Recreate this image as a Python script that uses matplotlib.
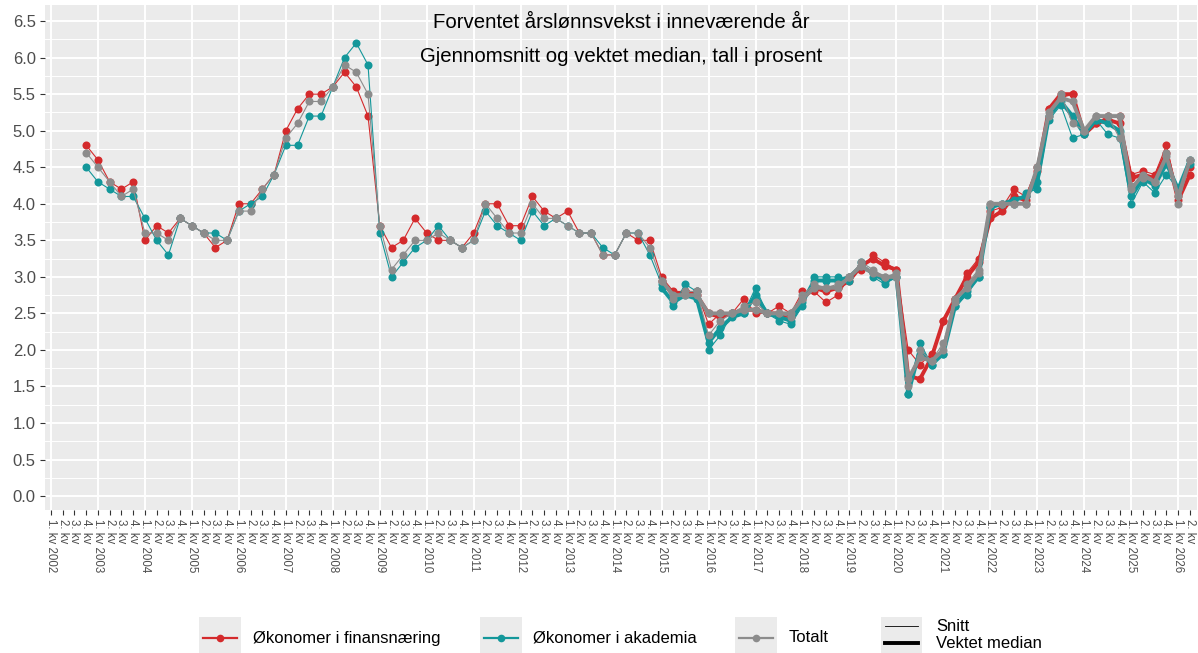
import numpy as np
import matplotlib
matplotlib.use("Agg")
import matplotlib.pyplot as plt
from matplotlib.patches import Rectangle
from matplotlib.lines import Line2D

plt.rcParams['font.family'] = ['Liberation Sans', 'DejaVu Sans']

# kvartaler fra 1. kv 2002 til 2. kv 2026
years = list(range(2002, 2027))
quarters = [(y, q) for y in years for q in range(1, 5)][:98]
tick_labels = [f"{q}. kv {y}" if q == 1 else f"{q}. kv" for y, q in quarters]

# snitt starter 4. kv 2002, vektet median starter 1. kv 2015
snitt_start = 3
median_start = 52

finans_snitt = [
    4.8,
    4.6, 4.3, 4.2, 4.3,
    3.5, 3.7, 3.6, 3.8,
    3.7, 3.6, 3.4, 3.5,
    4.0, 4.0, 4.2, 4.4,
    5.0, 5.3, 5.5, 5.5,
    5.6, 5.8, 5.6, 5.2,
    3.7, 3.4, 3.5, 3.8,
    3.6, 3.5, 3.5, 3.4,
    3.6, 4.0, 4.0, 3.7,
    3.7, 4.1, 3.9, 3.8,
    3.9, 3.6, 3.6, 3.3,
    3.3, 3.6, 3.5, 3.5,
    3.0, 2.8, 2.8, 2.8,
    2.35, 2.5, 2.5, 2.7,
    2.5, 2.5, 2.6, 2.5,
    2.8, 2.8, 2.65, 2.75,
    3.0, 3.1, 3.3, 3.2,
    3.1, 2.0, 1.8, 1.95,
    2.4, 2.7, 3.05, 3.25,
    3.9, 3.95, 4.2, 4.1,
    4.5, 5.3, 5.45, 5.5,
    5.0, 5.1, 5.2, 5.2,
    4.4, 4.45, 4.4, 4.8,
    4.1, 4.5,
]
akademia_snitt = [
    4.5,
    4.3, 4.2, 4.1, 4.1,
    3.8, 3.5, 3.3, 3.8,
    3.7, 3.6, 3.6, 3.5,
    3.9, 4.0, 4.1, 4.4,
    4.8, 4.8, 5.2, 5.2,
    5.6, 6.0, 6.2, 5.9,
    3.6, 3.0, 3.2, 3.4,
    3.5, 3.7, 3.5, 3.4,
    3.5, 3.9, 3.7, 3.6,
    3.5, 3.9, 3.7, 3.8,
    3.7, 3.6, 3.6, 3.4,
    3.3, 3.6, 3.6, 3.3,
    2.9, 2.6, 2.9, 2.8,
    2.0, 2.2, 2.5, 2.5,
    2.85, 2.5, 2.4, 2.35,
    2.6, 3.0, 3.0, 3.0,
    2.95, 3.2, 3.0, 2.9,
    3.0, 1.4, 2.1, 1.8,
    1.95, 2.6, 2.75, 3.0,
    3.95, 4.0, 4.0, 4.15,
    4.2, 5.15, 5.35, 4.9,
    4.95, 5.15, 4.95, 4.9,
    4.0, 4.3, 4.15, 4.4,
    4.2, 4.55,
]
totalt_snitt = [
    4.7,
    4.5, 4.3, 4.1, 4.2,
    3.6, 3.6, 3.5, 3.8,
    3.7, 3.6, 3.5, 3.5,
    3.9, 3.9, 4.2, 4.4,
    4.9, 5.1, 5.4, 5.4,
    5.6, 5.9, 5.8, 5.5,
    3.7, 3.1, 3.3, 3.5,
    3.5, 3.6, 3.5, 3.4,
    3.5, 4.0, 3.8, 3.6,
    3.6, 4.0, 3.8, 3.8,
    3.7, 3.6, 3.6, 3.3,
    3.3, 3.6, 3.6, 3.4,
    2.95, 2.7, 2.8, 2.8,
    2.2, 2.4, 2.5, 2.6,
    2.65, 2.5, 2.5, 2.45,
    2.75, 2.9, 2.85, 2.9,
    3.0, 3.2, 3.1, 3.0,
    3.05, 1.5, 2.0, 1.85,
    2.1, 2.65, 2.9, 3.1,
    4.0, 4.0, 4.0, 4.0,
    4.5, 5.2, 5.5, 5.1,
    5.0, 5.2, 5.2, 4.9,
    4.25, 4.35, 4.3, 4.7,
    4.0, 4.6,
]

finans_median = [
    2.95, 2.75, 2.8, 2.75,
    2.5, 2.45, 2.5, 2.55,
    2.55, 2.5, 2.5, 2.45,
    2.7, 2.85, 2.8, 2.85,
    2.95, 3.15, 3.25, 3.15,
    3.1, 1.65, 1.6, 1.9,
    2.4, 2.7, 3.0, 3.2,
    3.8, 3.9, 4.1, 4.05,
    4.45, 5.3, 5.5, 5.5,
    4.95, 5.1, 5.15, 5.1,
    4.35, 4.4, 4.35, 4.7,
    4.05, 4.4,
]
akademia_median = [
    2.85, 2.65, 2.75, 2.7,
    2.1, 2.3, 2.45, 2.5,
    2.75, 2.5, 2.45, 2.4,
    2.65, 2.95, 2.95, 2.95,
    3.0, 3.15, 3.05, 2.95,
    3.0, 1.4, 2.0, 1.8,
    1.95, 2.6, 2.8, 3.0,
    3.95, 4.0, 4.05, 4.1,
    4.3, 5.2, 5.4, 5.2,
    4.95, 5.15, 5.1, 5.0,
    4.1, 4.35, 4.25, 4.55,
    4.2, 4.6,
]
totalt_median = [
    2.95, 2.75, 2.75, 2.75,
    2.5, 2.5, 2.5, 2.55,
    2.55, 2.5, 2.5, 2.5,
    2.7, 2.85, 2.85, 2.85,
    3.0, 3.15, 3.05, 3.0,
    3.0, 1.6, 1.9, 1.85,
    2.0, 2.7, 2.85, 3.05,
    4.0, 4.0, 4.0, 4.0,
    4.5, 5.25, 5.45, 5.4,
    5.0, 5.2, 5.2, 5.2,
    4.2, 4.4, 4.3, 4.65,
    4.1, 4.6,
]

series_names = ["Økonomer i finansnæring", "Økonomer i akademia", "Totalt"]
colors = ["#D42A2C", "#13979A", "#8C8C8C"]
snitt = [finans_snitt, akademia_snitt, totalt_snitt]
median = [finans_median, akademia_median, totalt_median]

W, H = 1198, 653
fig = plt.figure(figsize=(W / 100, H / 100), dpi=100)
ax = fig.add_axes([45 / W, 1 - 510 / H, (1197 - 45) / W, (510 - 5) / H])
ax.set_facecolor("#EBEBEB")
for s in ax.spines.values():
    s.set_visible(False)

# gridlines
for yv in np.arange(0.25, 6.75, 0.5):
    ax.axhline(yv, color="white", lw=0.7, zorder=0)
for yv in np.arange(0, 6.75, 0.5):
    ax.axhline(yv, color="white", lw=1.4, zorder=0)
for xv in range(0, 98, 4):
    ax.axvline(xv, color="white", lw=1.4, zorder=0)

for k in range(3):
    xs = np.arange(snitt_start, snitt_start + len(snitt[k]))
    ax.plot(xs, snitt[k], color=colors[k], lw=0.8, marker="o", ms=5.8,
            mec="none", zorder=2 + k)
    xm = np.arange(median_start, median_start + len(median[k]))
    ax.plot(xm, median[k], color=colors[k], lw=2.8, marker="o", ms=5.8,
            mec="none", zorder=2 + k)

ax.set_xlim(-0.51, 97.6)
ax.set_ylim(-0.19, 6.72)
ax.set_yticks(np.arange(0, 6.6, 0.5))
ax.set_yticklabels([f"{v:.1f}" for v in np.arange(0, 6.6, 0.5)])
ax.set_xticks(range(len(tick_labels)))
ax.set_xticklabels(tick_labels, rotation=270, fontsize=8.3, color="#4D4D4D",
                   va="top", ha="center")
ax.tick_params(axis="x", length=3.6, width=0.8, color="#333333", pad=3)
ax.tick_params(axis="y", length=3.6, width=0.8, color="#333333", pad=3,
               labelsize=12, labelcolor="#4D4D4D")

ax.text(0.5, 1 - (22 - 5) / 505, "Forventet årslønnsvekst i inneværende år",
        transform=ax.transAxes, ha="center", va="center", fontsize=14.7)
ax.text(0.5, 1 - (57 - 5) / 505, "Gjennomsnitt og vektet median, tall i prosent",
        transform=ax.transAxes, ha="center", va="center", fontsize=14.7)


# legend at the bottom
def fx(x):
    return x / W


def fy(y):
    return 1 - y / H


key_lefts = [199, 480, 735]
text_lefts = [253, 533, 789]
for k in range(3):
    fig.add_artist(Rectangle((fx(key_lefts[k]), fy(653)), 41.5 / W, 36 / H,
                             transform=fig.transFigure, facecolor="#EBEBEB",
                             edgecolor="none"))
    fig.add_artist(Line2D([fx(key_lefts[k] + 4), fx(key_lefts[k] + 37.5)],
                          [fy(638), fy(638)], color=colors[k], lw=1.6,
                          transform=fig.transFigure))
    fig.add_artist(Line2D([fx(key_lefts[k] + 20.75)], [fy(638)], color=colors[k],
                          marker="o", ms=5.5, mec="none",
                          transform=fig.transFigure))
    fig.text(fx(text_lefts[k]), fy(638), series_names[k], fontsize=12,
             va="center", ha="left")

fig.add_artist(Rectangle((fx(881), fy(653)), 41.5 / W, 36 / H,
                         transform=fig.transFigure, facecolor="#EBEBEB",
                         edgecolor="none"))
fig.add_artist(Line2D([fx(885), fx(918)], [fy(626), fy(626)], color="black",
                      lw=0.6, transform=fig.transFigure))
fig.add_artist(Line2D([fx(885), fx(918)], [fy(643), fy(643)], color="black",
                      lw=2.8, transform=fig.transFigure))
fig.text(fx(936), fy(626.5), "Snitt", fontsize=12, va="center", ha="left")
fig.text(fx(936), fy(643.5), "Vektet median", fontsize=12, va="center", ha="left")

fig.savefig("out.png", dpi=100)
